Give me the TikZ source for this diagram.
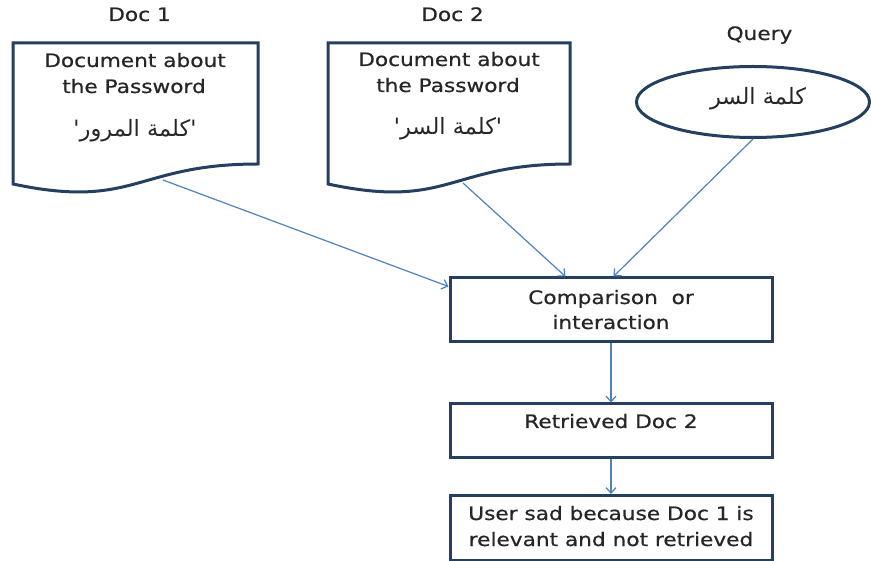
\documentclass[tikz,border=0pt]{standalone}
\usepackage{fontspec}
\setmainfont[FakeStretch=1.17,FakeBold=0.6]{DejaVu Sans}
\newfontfamily\arabicfont[Script=Arabic]{DejaVu Sans}
\TeXXeTstate=1
\usetikzlibrary{arrows.meta,shapes.geometric}
\definecolor{boxline}{HTML}{243F60}
\definecolor{linkblue}{HTML}{4F81BD}
\definecolor{ink}{HTML}{262626}
\tikzset{
  shapeline/.style={draw=boxline, line width=3pt, fill=white},
  procbox/.style={shapeline, rectangle, minimum width=322pt, inner sep=0pt},
  link/.style={draw=linkblue, line width=1.2pt, -{Straight Barb[length=5.5pt,width=10pt]}},
  txt/.style={anchor=base, inner sep=0pt, text=ink, font=\fontsize{18.5}{22}\selectfont},
  arab/.style={anchor=base, inner sep=0pt, text=ink, font=\fontsize{22.5}{26}\selectfont\arabicfont},
}
\begin{document}
\begin{tikzpicture}[x=1pt,y=-1pt]
\useasboundingbox (0,0) rectangle (871,561);

% document shapes (flowchart "document" outline)
\draw[shapeline] (13,43) -- (258,43) -- (258,164)
  .. controls (135.5,164) and (135.5,210) .. (13,184) -- cycle;
\draw[shapeline] (328,43) -- (570,43) -- (570,164)
  .. controls (449,164) and (449,210) .. (328,184) -- cycle;
\coordinate (d1foot) at (163,180);
\coordinate (d2foot) at (463,183);

% query ellipse
\node[shapeline, ellipse, minimum width=233pt, minimum height=71pt, inner sep=0pt] (query) at (753,102) {};

% process boxes
\node[procbox, minimum height=64pt] (cmp) at (611,310) {};
\node[procbox, minimum height=54pt] (ret) at (611,431) {};
\node[procbox, minimum height=65pt] (user) at (611,528) {};

% headings
\node[txt] (h1) at (139.5,21) {Doc 1};
\node[txt] (h2) at (452.5,21) {Doc 2};
\node[txt] (h3) at (759.5,40) {Query};

% document contents
\node[txt] (d1a) at (135,67) {Document about};
\node[txt] (d1b) at (134,93) {the Password};
\node[arab] (d1c) at (135,137) {\beginR'كلمة المرور'\endR};
\node[txt] (d2a) at (449,66) {Document about};
\node[txt] (d2b) at (448,92) {the Password};
\node[arab] (d2c) at (448,135) {\beginR'كلمة السر'\endR};
\node[arab] (qa) at (758,105) {\beginR كلمة السر\endR};

% box texts
\node[txt] (c1) at (611,304) {Comparison~ or};
\node[txt] (c2) at (611,329) {interaction};
\node[txt] (r1) at (611,428) {Retrieved Doc 2};
\node[txt] (u1) at (611,520) {User sad because Doc 1 is};
\node[txt] (u2) at (611,546) {relevant and not retrieved};

% connectors
\draw[link] (d1foot) -- ([yshift=-10pt]cmp.north west);
\draw[link] (d2foot) -- ([xshift=117pt]cmp.north west);
\draw[link] (query.south) -- ([xshift=165pt]cmp.north west);
\draw[link] (cmp.south) -- (ret.north);
\draw[link] (ret.south) -- (user.north);
\end{tikzpicture}
\end{document}
